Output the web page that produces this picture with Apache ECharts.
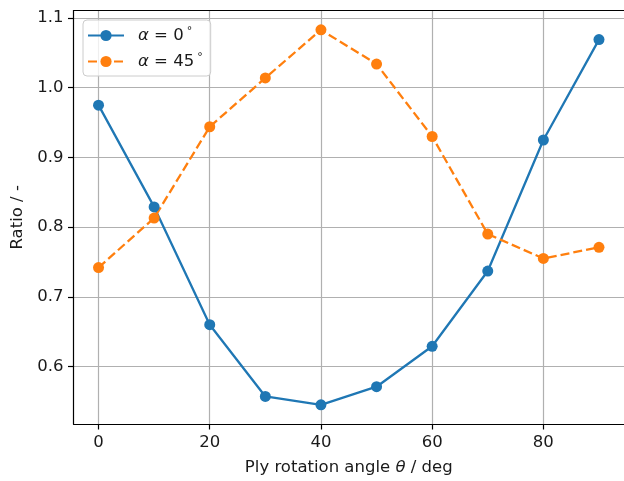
<!DOCTYPE html>
<html>
<head>
<meta charset="utf-8">
<script src="https://cdn.jsdelivr.net/npm/echarts@6/dist/echarts.min.js"></script>
<style>
  html, body { margin: 0; padding: 0; background: #fff; }
  #chart { width: 624px; height: 481px; }
</style>
</head>
<body>
<div id="chart"></div>
<script>
// Ply rotation angle (deg) and the ratio measured for two loading angles
const angles = [0, 10, 20, 30, 40, 50, 60, 70, 80, 90];
const ratioAlpha0 = [0.975, 0.829, 0.660, 0.557, 0.545, 0.571, 0.629, 0.737, 0.925, 1.069];
const ratioAlpha45 = [0.742, 0.813, 0.944, 1.014, 1.083, 1.034, 0.930, 0.790, 0.755, 0.771];
const xTicks = [0, 20, 40, 60, 80];
const yTicks = [0.6, 0.7, 0.8, 0.9, 1.0, 1.1];
const seriesNames = ['alpha0', 'alpha45'];
const legendLabels = { alpha0: '0', alpha45: '45' };

const FONT = 'DejaVu Sans';
const FS = 16.5;
const TEXT = '#1a1a1a';
const GRID = '#b0b0b0';
const BLUE = '#1f77b4';
const ORANGE = '#ff7f0e';

const pairs = ys => angles.map((a, i) => [a, ys[i]]);

const chart = echarts.init(document.getElementById('chart'), null, { renderer: 'canvas' });

chart.setOption({
  animation: false,
  backgroundColor: '#fff',
  textStyle: { fontFamily: FONT },
  // the plot area runs a few pixels past the right edge of the canvas
  grid: { left: 73.5, width: 554.5, top: 10.7, bottom: 57, containLabel: false },
  legend: {
    orient: 'vertical',
    left: 83,
    top: 20,
    padding: [6, 8, 6, 4],
    itemGap: 8,
    itemWidth: 36,
    itemHeight: 14,
    borderColor: '#cccccc',
    borderWidth: 1,
    borderRadius: 4,
    backgroundColor: 'rgba(255,255,255,0.8)',
    data: seriesNames,
    formatter: name => '{a|α}{t| = ' + legendLabels[name] + '}{s|°}',
    textStyle: {
      fontFamily: FONT,
      fontSize: FS,
      color: TEXT,
      padding: [0, 0, 0, 9],
      rich: {
        a: { fontFamily: FONT, fontStyle: 'italic', fontSize: FS, color: TEXT },
        t: { fontFamily: FONT, fontSize: FS, color: TEXT },
        s: { fontFamily: FONT, fontSize: 11, color: TEXT, verticalAlign: 'top', padding: [0, 0, 8, 3] }
      }
    }
  },
  xAxis: [
    {
      type: 'value',
      position: 'bottom',
      min: -4.5,
      max: 94.5,
      name: 'Ply rotation angle {i|θ} / deg',
      nameLocation: 'middle',
      nameGap: 35,
      nameTextStyle: {
        fontFamily: FONT, fontSize: FS, color: TEXT,
        rich: { i: { fontFamily: FONT, fontStyle: 'italic', fontSize: FS, color: TEXT } }
      },
      axisLine: { show: true, onZero: false, lineStyle: { color: '#000', width: 1.2 } },
      axisTick: { show: true, inside: false, length: 5.5, customValues: xTicks, lineStyle: { color: '#000', width: 1.2 } },
      axisLabel: { customValues: xTicks, margin: 10, fontFamily: FONT, fontSize: FS, color: TEXT, formatter: v => String(v) },
      splitLine: { show: true, lineStyle: { color: GRID, width: 1.2 } }
    },
    {
      type: 'value',
      position: 'top',
      min: -4.5,
      max: 94.5,
      axisLine: { show: true, onZero: false, lineStyle: { color: '#000', width: 1.2 } },
      axisTick: { show: false },
      axisLabel: { show: false },
      splitLine: { show: false }
    }
  ],
  yAxis: {
    type: 'value',
    min: 0.5175,
    max: 1.1105,
    name: 'Ratio / -',
    nameLocation: 'middle',
    nameGap: 47,
    nameRotate: 90,
    nameTextStyle: { fontFamily: FONT, fontSize: FS, color: TEXT },
    axisLine: { show: true, onZero: false, lineStyle: { color: '#000', width: 1.2 } },
    axisTick: { show: true, inside: false, length: 5.5, customValues: yTicks, lineStyle: { color: '#000', width: 1.2 } },
    axisLabel: { customValues: yTicks, margin: 10, fontFamily: FONT, fontSize: FS, color: TEXT, formatter: v => v.toFixed(1) },
    splitLine: { show: true, lineStyle: { color: GRID, width: 1.2 } }
  },
  series: [
    {
      name: 'alpha0',
      type: 'line',
      xAxisIndex: 0,
      data: pairs(ratioAlpha0),
      symbol: 'circle',
      symbolSize: 11,
      itemStyle: { color: BLUE, borderWidth: 0 },
      lineStyle: { color: BLUE, width: 2.3 },
      emphasis: { disabled: true }
    },
    {
      name: 'alpha45',
      type: 'line',
      xAxisIndex: 0,
      data: pairs(ratioAlpha45),
      symbol: 'circle',
      symbolSize: 11,
      itemStyle: { color: ORANGE, borderWidth: 0 },
      lineStyle: { color: ORANGE, width: 2.3, type: [9, 4] },
      emphasis: { disabled: true }
    }
  ]
});
</script>
</body>
</html>
